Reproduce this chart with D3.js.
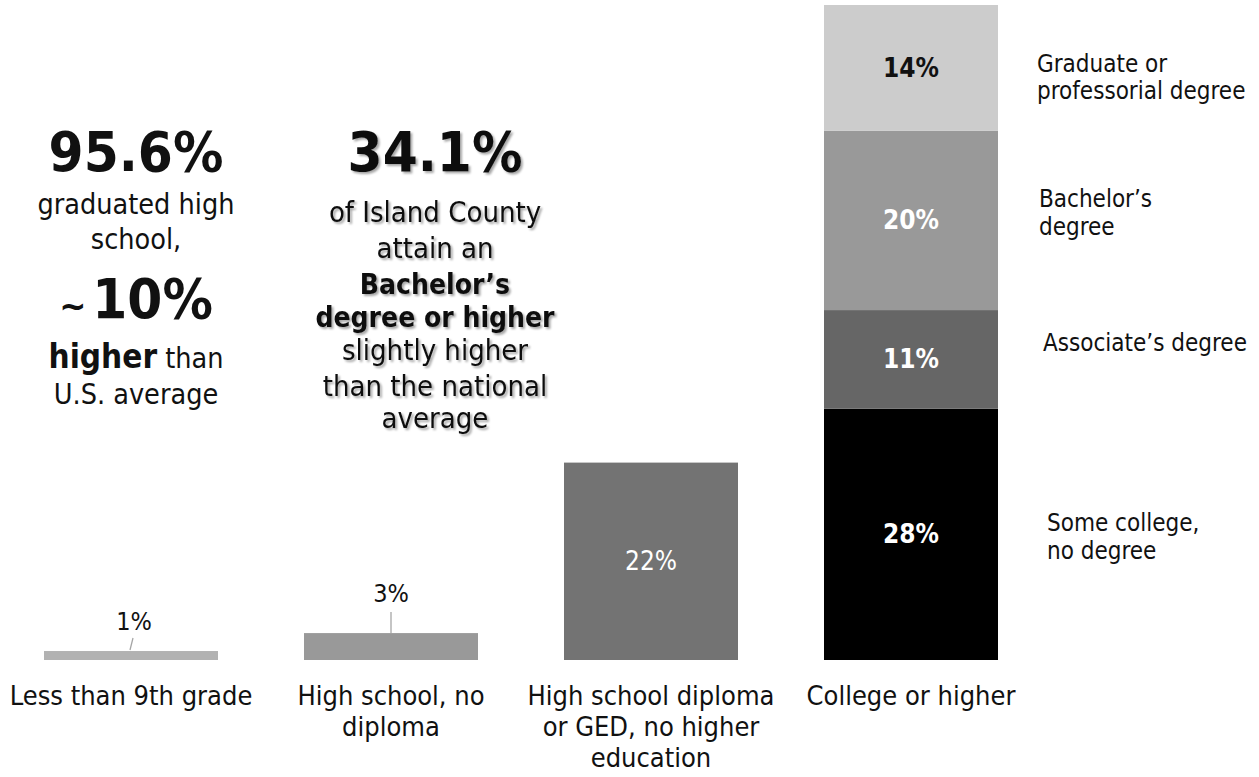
<!DOCTYPE html>
<html>
<head>
<meta charset="utf-8">
<script src="https://cdn.jsdelivr.net/npm/d3@7"></script>
<style>
  html, body { margin: 0; padding: 0; background: #fff; }
  svg { display: block; }
  text { font-family: "DejaVu Sans Condensed", "DejaVu Sans", sans-serif; font-stretch: condensed; }
</style>
</head>
<body>
<svg id="chart" width="1259" height="777"></svg>
<script>
// ---- data ----
const categories = ["Less than 9th grade", "High school, no diploma", "High school diploma or GED, no higher education", "College or higher"];
const categoryLines = [["Less than 9th grade"], ["High school, no", "diploma"], ["High school diploma", "or GED, no higher", "education"], ["College or higher"]];
const simpleValues = [1, 3, 22];
const simpleLabels = ["1%", "3%", "22%"];
const simpleColors = ["#b2b2b2", "#999999", "#737373"];
const collegeSegments = ["Some college, no degree", "Associate’s degree", "Bachelor’s degree", "Graduate or professorial degree"];
const collegeValues = [28, 11, 20, 14];
const collegeLabels = ["28%", "11%", "20%", "14%"];
const collegeColors = ["#000000", "#666666", "#999999", "#cccccc"];
const collegeLabelColors = ["#ffffff", "#ffffff", "#ffffff", "#111111"];
const legendLines = [["Some college,", "no degree"], ["Associate’s degree"], ["Bachelor’s", "degree"], ["Graduate or", "professorial degree"]];

const svg = d3.select("#chart");

const x = d3.scaleBand().domain(categories).range([1, 1041]).paddingInner(86 / 260).paddingOuter(43 / 260);
const y = d3.scaleLinear().domain([0, 73]).range([660, 5]);

// simple bars
const simple = categories.slice(0, 3).map((c, i) => ({ c, v: simpleValues[i], label: simpleLabels[i], color: simpleColors[i] }));
svg.selectAll("rect.simple").data(simple).join("rect")
  .attr("class", "simple")
  .attr("x", d => x(d.c)).attr("width", x.bandwidth())
  .attr("y", d => y(d.v)).attr("height", d => y(0) - y(d.v))
  .attr("fill", d => d.color);

// labels for small bars (with leader lines)
const cx = c => x(c) + x.bandwidth() / 2;
// 1%
svg.append("line").attr("x1", cx(categories[0]) - 1).attr("y1", y(simpleValues[0]) - 1)
  .attr("x2", cx(categories[0]) + 2).attr("y2", y(simpleValues[0]) - 13)
  .attr("stroke", "#a6a6a6").attr("stroke-width", 1.3);
svg.append("text").attr("x", cx(categories[0]) + 3).attr("y", 630).attr("text-anchor", "middle")
  .attr("font-size", 25).attr("fill", "#111").text(simpleLabels[0]);
// 3%
svg.append("line").attr("x1", cx(categories[1])).attr("y1", y(simpleValues[1]))
  .attr("x2", cx(categories[1])).attr("y2", y(simpleValues[1]) - 21)
  .attr("stroke", "#a6a6a6").attr("stroke-width", 1.3);
svg.append("text").attr("x", cx(categories[1])).attr("y", 602).attr("text-anchor", "middle")
  .attr("font-size", 25).attr("fill", "#111").text(simpleLabels[1]);
// 22%
svg.append("text").attr("x", cx(categories[2])).attr("y", y(simpleValues[2] / 2) + 9).attr("text-anchor", "middle")
  .attr("font-size", 26).attr("fill", "#fff").text(simpleLabels[2]);

// stacked college bar
const stackData = d3.stack().keys(collegeSegments)([Object.fromEntries(collegeSegments.map((k, i) => [k, collegeValues[i]]))]);
const segs = stackData.map((s, i) => ({ key: s.key, y0: s[0][0], y1: s[0][1], label: collegeLabels[i], color: collegeColors[i], lc: collegeLabelColors[i], legend: legendLines[i] }));
const col = categories[3];
svg.selectAll("rect.seg").data(segs).join("rect")
  .attr("class", "seg")
  .attr("x", x(col)).attr("width", x.bandwidth())
  .attr("y", d => y(d.y1)).attr("height", d => y(d.y0) - y(d.y1))
  .attr("fill", d => d.color);
svg.selectAll("text.seglab").data(segs).join("text")
  .attr("class", "seglab")
  .attr("x", cx(col)).attr("y", d => y((d.y0 + d.y1) / 2) + 9)
  .attr("text-anchor", "middle").attr("font-size", 26).attr("font-weight", "bold")
  .attr("fill", d => d.lc).text(d => d.label);

// legend labels to the right of the stacked bar
const legendDx = [1047, 1043, 1039, 1037];
const legendFirst = [-3, -8.5, -13, 4];
segs.forEach((d, i) => {
  const base = y((d.y0 + d.y1) / 2) + legendFirst[i];
  const t = svg.append("text").attr("font-size", 24).attr("fill", "#111");
  d.legend.forEach((ln, j) => {
    t.append("tspan").attr("x", legendDx[i]).attr("y", base + j * 27.5).text(ln);
  });
});

// category labels
categories.forEach((c, i) => {
  const t = svg.append("text").attr("text-anchor", "middle").attr("font-size", 27).attr("fill", "#111");
  categoryLines[i].forEach((ln, j) => {
    t.append("tspan").attr("x", cx(c)).attr("y", 705 + j * 31).text(ln);
  });
});

// annotation blocks
const defs = svg.append("defs");
const f = defs.append("filter").attr("id", "shadow").attr("x", "-10%").attr("y", "-20%").attr("width", "130%").attr("height", "150%");
f.append("feDropShadow").attr("dx", 2).attr("dy", 2).attr("stdDeviation", 1.3).attr("flood-color", "#000").attr("flood-opacity", 0.35);

function block(cxp, lines, filter) {
  const g = svg.append("g");
  if (filter) g.attr("filter", "url(#shadow)");
  lines.forEach(l => {
    const t = g.append("text").attr("x", cxp).attr("y", l.y).attr("text-anchor", "middle").attr("fill", "#111");
    l.parts.forEach(p => {
      const s = t.append("tspan").attr("font-size", p.size).attr("font-weight", p.bold ? "bold" : "normal").text(p.t);
      if (p.dx) s.attr("dx", p.dx);
    });
  });
}
block(136, [
  { y: 171, parts: [{ t: "95.6%", size: 56, bold: true }] },
  { y: 214, parts: [{ t: "graduated high", size: 28.5 }] },
  { y: 249, parts: [{ t: "school,", size: 28.5 }] },
  { y: 318, parts: [{ t: "~", size: 36, bold: true }, { t: "10%", size: 56, bold: true, dx: 6 }] },
  { y: 368, parts: [{ t: "higher", size: 33, bold: true }, { t: " than", size: 28.5 }] },
  { y: 404, parts: [{ t: "U.S. average", size: 28.5 }] }
], false);
block(435, [
  { y: 171, parts: [{ t: "34.1%", size: 56, bold: true }] },
  { y: 222, parts: [{ t: "of Island County", size: 29 }] },
  { y: 258, parts: [{ t: "attain an", size: 29 }] },
  { y: 294, parts: [{ t: "Bachelor’s", size: 28, bold: true }] },
  { y: 327, parts: [{ t: "degree or higher", size: 28, bold: true }] },
  { y: 360, parts: [{ t: "slightly higher", size: 29 }] },
  { y: 396, parts: [{ t: "than the national", size: 29 }] },
  { y: 428, parts: [{ t: "average", size: 29 }] }
], true);
</script>
</body>
</html>
